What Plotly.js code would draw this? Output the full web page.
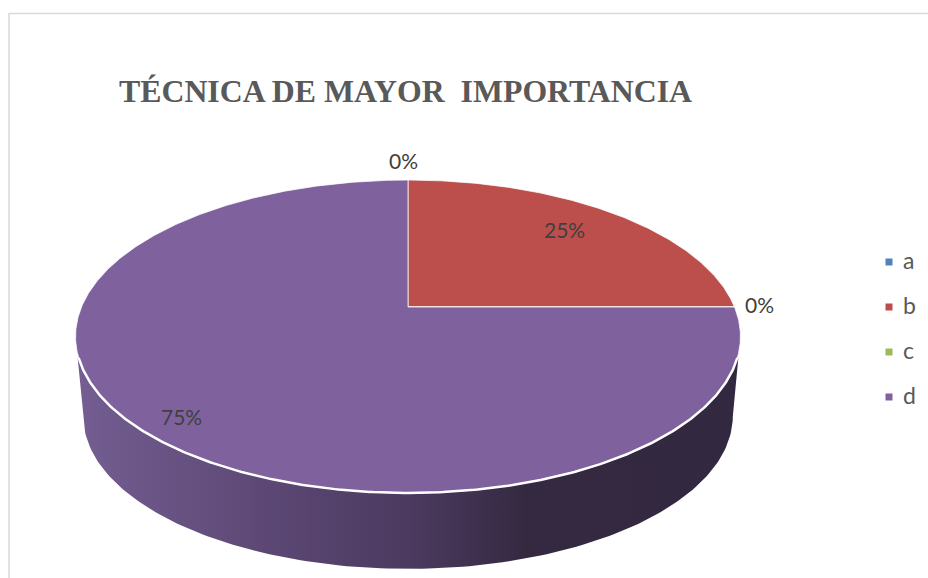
<!DOCTYPE html>
<html>
<head>
<meta charset="utf-8">
<script src="https://cdn.plot.ly/plotly-3.0.1.min.js"></script>
<style>html,body{margin:0;padding:0;background:#fff}#chart{width:928px;height:578px}</style>
</head>
<body>
<div id="chart"></div>
<script>
// Data
const categories = ['a', 'b', 'c', 'd'];
const values = [0, 25, 0, 75];
const chartTitle = 'TÉCNICA DE MAYOR \u00a0IMPORTANCIA';

// Styles
const sliceColors = ['#4F81BD', '#BC4E4B', '#9BBB59', '#7F619D'];
const labelRadius = [1.15, 0.74, 1.07, 0.87];
const labelNudgeX = [-5, 1, 2, 1];
const labelNudgeY = [-4, -6, -3, 4];

// Projection of the tilted disc on to the page (perspective)
const CX = 408, CY = 307, RX = 326.5, RY = 150.9, K = 0.1885;
const DROP = 80.2, BOTTOM_SCALE = 0.977, RIM_Y = 357;
function project(deg, r, scale, drop) {
  const t = deg * Math.PI / 180, u = r * Math.sin(t), v = r * Math.cos(t), d = 1 + K * v;
  return [CX + scale * RX * u / d, CY + drop - scale * RY * v / d];
}
const total = values.reduce((a, b) => a + b, 0);
let acc = 0;
const spans = values.map(v => { const s = acc; acc += v / total * 360; return [s, acc]; });

const traces = [];

// Side wall
const wall = { x: [], y: [] };
const wallLowY = CY + DROP + BOTTOM_SCALE * RY * K / Math.sqrt(1 - K * K);
for (let d = 360; d >= 0; d -= 1) {
  const p = project(d, 1, BOTTOM_SCALE, DROP);
  if (d >= 0 && p[1] >= wallLowY) { wall.x.push(p[0]); wall.y.push(p[1]); }
}
const topRim = [];
for (let d = 0; d <= 360; d += 0.5) {
  const p = project(d, 1, 1, 0);
  if (p[1] >= RIM_Y) topRim.push(p);
}
topRim.sort((a, b) => a[0] - b[0]);
const rimL = topRim[0], rimR = topRim[topRim.length - 1];
const wx = wall.x.slice(), wy = wall.y.slice();
const order = wx.map((x, i) => [x, wy[i]]).sort((a, b) => a[0] - b[0]);
traces.push({
  x: [rimL[0] - 1, ...order.map(p => p[0]), rimR[0] + 1, CX],
  y: [rimL[1], ...order.map(p => p[1]), rimR[1], CY],
  mode: 'lines', line: { width: 0 }, fill: 'toself', hoverinfo: 'skip', showlegend: false,
  fillgradient: {
    type: 'horizontal', start: 76, stop: 740,
    colorscale: [[0, '#745E92'], [0.25, '#5F4A78'], [0.5, '#4C3A60'], [0.68, '#342941'], [1, '#32283F']]
  }
});

// Top slices
categories.forEach((c, i) => {
  const xs = [CX], ys = [CY];
  const [a, b] = spans[i];
  for (let d = a; d < b; d += 0.5) { const p = project(d, 1, 1, 0); xs.push(p[0]); ys.push(p[1]); }
  const e = project(b, 1, 1, 0); xs.push(e[0]); ys.push(e[1]);
  xs.push(CX); ys.push(CY);
  traces.push({
    x: xs, y: ys, name: c, mode: 'lines', fill: 'toself', fillcolor: sliceColors[i],
    line: { color: 'rgba(255,255,255,0.75)', width: 1 }, hoverinfo: 'skip', showlegend: false
  });
});

// White rim along the front edge
traces.push({
  x: topRim.map(p => p[0]), y: topRim.map(p => p[1]),
  mode: 'lines', line: { color: '#FFFFFF', width: 2.5 }, hoverinfo: 'skip', showlegend: false
});

// Legend
const legendX = 889, legendTextX = 903, legendY = [262, 307, 352, 397], legendTextY = [263, 308, 353, 398];
categories.forEach((c, i) => {
  traces.push({
    x: [legendX], y: [legendY[i]], mode: 'markers',
    marker: { symbol: 'square', size: 7, color: sliceColors[i] },
    hoverinfo: 'skip', showlegend: false, cliponaxis: false
  });
  traces.push({
    x: [legendTextX], y: [legendTextY[i]], mode: 'text', text: [c], textposition: 'middle right',
    textfont: { family: 'Lato, sans-serif', size: 23, color: '#595959' },
    hoverinfo: 'skip', showlegend: false, cliponaxis: false
  });
});

// Percentage labels
const annotations = categories.map((c, i) => {
  const mid = (spans[i][0] + spans[i][1]) / 2;
  const p = project(mid, labelRadius[i], 1, 0);
  return {
    x: p[0], y: p[1], xref: 'x', yref: 'y', showarrow: false,
    xshift: labelNudgeX[i], yshift: -labelNudgeY[i],
    text: Math.round(values[i] / total * 100) + '%',
    font: { family: 'Lato, sans-serif', size: 21, color: '#404040' },
    xanchor: 'center', yanchor: 'middle'
  };
});

const layout = {
  width: 928, height: 578,
  margin: { l: 0, r: 0, t: 0, b: 0 },
  paper_bgcolor: '#FFFFFF', plot_bgcolor: '#FFFFFF',
  showlegend: false,
  title: {
    text: '<b>' + chartTitle + '</b>', xref: 'paper', yref: 'paper',
    x: 119 / 928, xanchor: 'left', y: 1 - 91 / 578, yanchor: 'middle',
    font: { family: '"Liberation Serif", serif', size: 31.8, color: '#595959' }
  },
  xaxis: { range: [0, 928], visible: false, fixedrange: true },
  yaxis: { range: [578, 0], visible: false, fixedrange: true },
  annotations,
  shapes: [
    { type: 'line', xref: 'x', yref: 'y', x0: 9, x1: 9, y0: 13, y1: 578, line: { color: '#D9D9D9', width: 1.5 }, layer: 'below' },
    { type: 'line', xref: 'x', yref: 'y', x0: 9, x1: 928, y0: 13.5, y1: 13.5, line: { color: '#D9D9D9', width: 1.5 }, layer: 'below' }
  ]
};
Plotly.newPlot('chart', traces, layout, { displayModeBar: false, staticPlot: true });
</script>
</body>
</html>
